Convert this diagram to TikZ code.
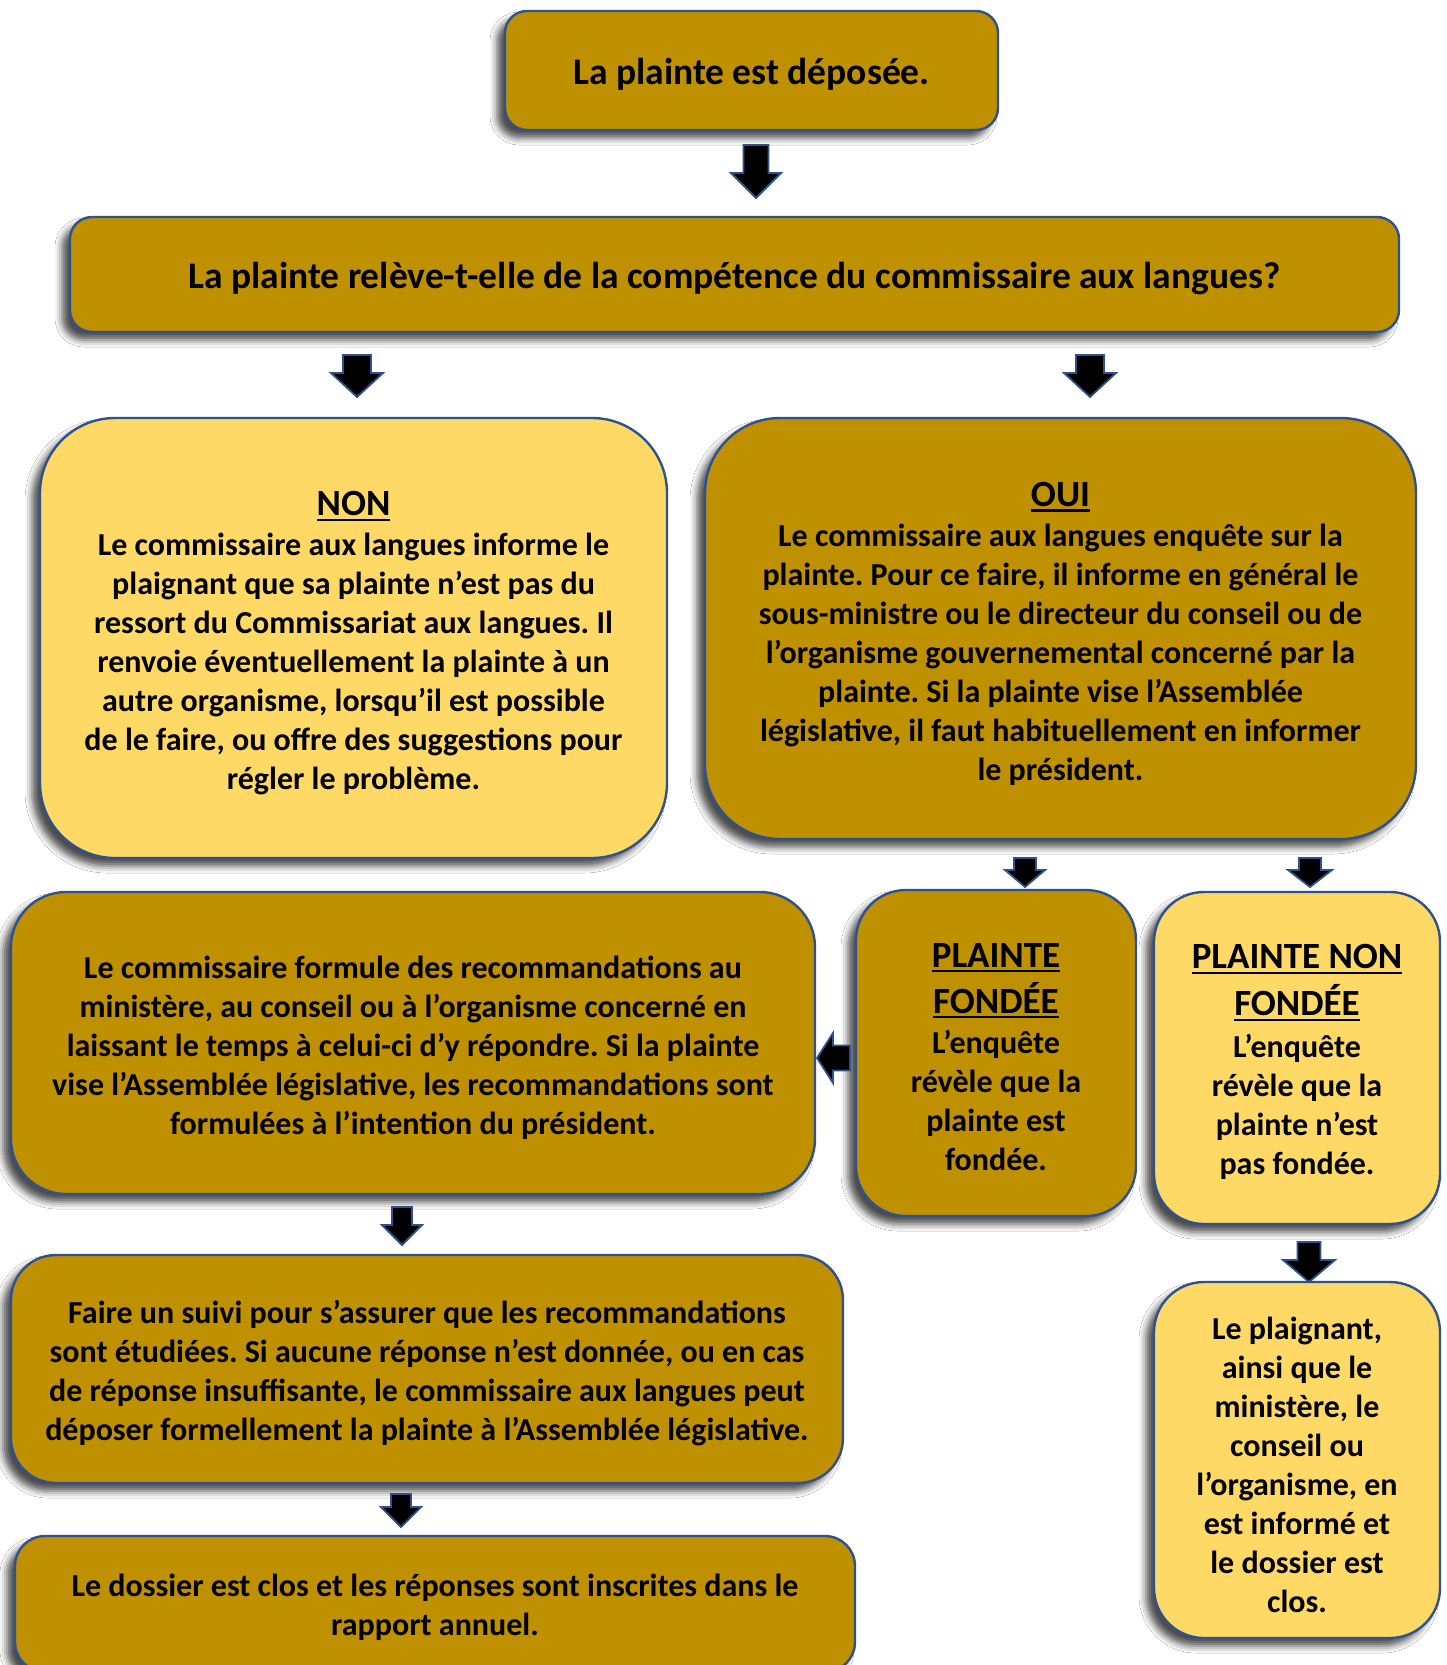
\documentclass[tikz,border=0pt]{standalone}
\usepackage{fontspec}
\setmainfont{Carlito}
\usetikzlibrary{shadows.blur}
\definecolor{darkgold}{HTML}{BF9000}
\definecolor{lightgold}{HTML}{FFD966}
\definecolor{edgeblue}{HTML}{2F528F}
\frenchspacing
\tikzset{
  box/.style={draw=edgeblue, line width=2.4pt, inner sep=0pt, align=center,
    text=black, font=\fontsize{32}{39}\selectfont\bfseries\frenchspacing,
    blur shadow={shadow xshift=-8pt, shadow yshift=-8pt, shadow blur radius=7pt, shadow opacity=70}},
  darkbox/.style={box, fill=darkgold},
  lightbox/.style={box, fill=lightgold},
  bigtext/.style={font=\fontsize{37.5}{44}\selectfont\bfseries\frenchspacing},
  blockarr/.style={draw=edgeblue, line width=1.8pt, fill=black, line join=miter},
}
\newcommand{\dnarr}[6]{%
  \draw[blockarr] ({#1-#5},#2) -- ({#1+#5},#2) -- ({#1+#5},#3) -- ({#1+#6},#3)
    -- (#1,#4) -- ({#1-#6},#3) -- ({#1-#5},#3) -- cycle;}
\newcommand{\ttl}[1]{\leavevmode\vtop{\hbox{#1}\kern2.5pt\hrule height 2.4pt}}
\newcommand{\bigsz}{\fontsize{37}{44}\selectfont}
\newcommand{\txtdn}[1]{\rule{0pt}{\dimexpr\fontcharht\font`\l+#1\relax}}
\begin{document}
\begin{tikzpicture}[x=1pt,y=-1pt]
\path[use as bounding box] (0,0) rectangle (1447,1665);
\clip (0,0) rectangle (1447,1665);
\fill[white] (0,0) rectangle (1447,1665);

\node[darkbox, bigtext, rounded corners=22pt, minimum width=493pt, minimum height=119pt]
  (b1) at (751.5,70.5) {\txtdn{7pt}La plainte est déposée.};

\node[darkbox, bigtext, rounded corners=22pt, minimum width=1329pt, minimum height=115pt]
  (b2) at (734.5,274.5) {\txtdn{9pt}La plainte relève-t-elle de la compétence du commissaire aux langues?};

\node[lightbox, rounded corners=75pt, minimum width=627pt, minimum height=440pt]
  (non) at (353.5,638) {\bigsz\txtdn{9pt}\ttl{NON}\\[1pt]
  Le commissaire aux langues informe le\\
  plaignant que sa plainte n’est pas du\\
  ressort du Commissariat aux langues. Il\\
  renvoie éventuellement la plainte à un\\
  autre organisme, lorsqu’il est possible\\
  de le faire, ou offre des suggestions pour\\
  régler le problème.};

\node[darkbox, rounded corners=75pt, minimum width=711pt, minimum height=421pt]
  (oui) at (1060.5,628.5) {\bigsz\txtdn{9pt}\ttl{OUI}\\[1pt]
  Le commissaire aux langues enquête sur la\\
  plainte. Pour ce faire, il informe en général le\\
  sous-ministre ou le directeur du conseil ou de\\
  l’organisme gouvernemental concerné par la\\
  plainte. Si la plainte vise l’Assemblée\\
  législative, il faut habituellement en informer\\
  le président.};

\node[darkbox, rounded corners=55pt, minimum width=804pt, minimum height=302pt]
  (rec) at (413,1043) {\txtdn{9pt}Le commissaire formule des recommandations au\\
  ministère, au conseil ou à l’organisme concerné en\\
  laissant le temps à celui-ci d’y répondre. Si la plainte\\
  vise l’Assemblée législative, les recommandations sont\\
  formulées à l’intention du président.};

\node[darkbox, rounded corners=50pt, minimum width=280pt, minimum height=326pt]
  (pf) at (996,1053) {\bigsz\txtdn{6pt}\ttl{PLAINTE}\\[7pt]\bigsz\ttl{FONDÉE}\\[1.5pt]
  L’enquête\\ révèle que la\\ plainte est\\ fondée.};

\node[lightbox, rounded corners=50pt, minimum width=286pt, minimum height=332pt]
  (pnf) at (1297,1058) {\bigsz\txtdn{7pt}\ttl{PLAINTE NON}\\[8pt]\bigsz\ttl{FONDÉE}\\[3pt]
  L’enquête\\ révèle que la\\ plainte n’est\\ pas fondée.};

\node[darkbox, rounded corners=45pt, minimum width=832pt, minimum height=228pt]
  (suivi) at (427,1369) {\txtdn{9pt}Faire un suivi pour s’assurer que les recommandations\\
  sont étudiées. Si aucune réponse n’est donnée, ou en cas\\
  de réponse insuffisante, le commissaire aux langues peut\\
  déposer formellement la plainte à l’Assemblée législative.};

\node[darkbox, rounded corners=30pt, minimum width=840pt, minimum height=136pt]
  (last) at (435,1604) {\txtdn{6pt}Le dossier est clos et les réponses sont inscrites dans le\\
  rapport annuel.};

\node[lightbox, rounded corners=50pt, minimum width=286pt, minimum height=356pt]
  (final) at (1297,1460) {\txtdn{9pt}Le plaignant,\\ ainsi que le\\ ministère, le\\ conseil ou\\
  l’organisme, en\\ est informé et\\ le dossier est\\ clos.};

% block arrows
\dnarr{756}{145}{173}{198}{12.5}{25}
\dnarr{357}{355}{373}{397}{14}{26}
\dnarr{1090}{355}{373}{397}{14}{26}
\dnarr{1025}{858}{870}{887}{11}{20}
\dnarr{1310}{858}{870}{887}{11}{22}
\dnarr{402}{1207}{1225}{1245}{10}{20}
\dnarr{401}{1494}{1507}{1527}{10}{20}
\dnarr{1309}{1242}{1260}{1282}{11.5}{26}
\draw[blockarr] (850,1045.5) -- (850,1070.5) -- (833,1070.5) -- (833,1083)
  -- (817,1058) -- (833,1033) -- (833,1045.5) -- cycle;
\end{tikzpicture}
\end{document}
